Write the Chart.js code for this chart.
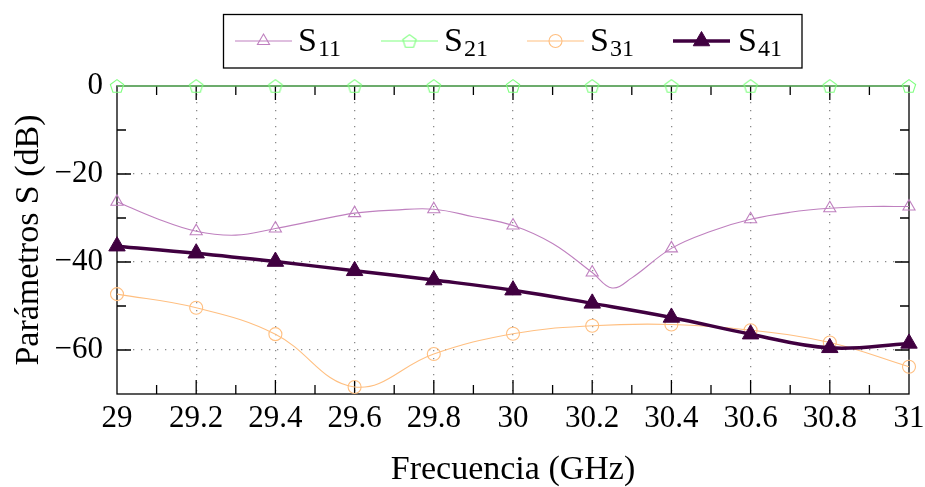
<!DOCTYPE html>
<html><head><meta charset="utf-8">
<script src="https://cdn.jsdelivr.net/npm/chart.js@4"></script>
<style>html,body{margin:0;padding:0;background:#fff;}#wrap{width:925px;height:487px;}</style>
</head><body><div id="wrap"><canvas id="c" width="925" height="487"></canvas></div>
<script>
// ---- data ----
const seriesNames = ['S11', 'S21', 'S31', 'S41'];
const freq = [29, 29.2, 29.4, 29.6, 29.8, 30, 30.2, 30.4, 30.6, 30.8, 31];
const s11Freq = [29, 29.1, 29.2, 29.3, 29.4, 29.5, 29.6, 29.7, 29.8, 29.9, 30, 30.1, 30.2, 30.25, 30.3, 30.4, 30.5, 30.6, 30.7, 30.8, 30.9, 31];
const s11 = [-26.3, -30.1, -33.0, -33.9, -32.4, -30.6, -28.9, -28.2, -28.0, -29.7, -31.7, -35.8, -42.4, -45.9, -43.6, -36.9, -33.0, -30.3, -28.7, -27.8, -27.4, -27.4];
const s21 = [0, 0, 0, 0, 0, 0, 0, 0, 0, 0, 0];
const s31 = [-47.3, -50.4, -56.4, -68.4, -60.9, -56.3, -54.5, -54.2, -55.5, -58.3, -63.8];
const s41 = [-36.4, -38.0, -39.9, -42.0, -44.1, -46.4, -49.4, -52.6, -56.4, -59.5, -58.5];
const xTickValues = [29, 29.2, 29.4, 29.6, 29.8, 30, 30.2, 30.4, 30.6, 30.8, 31];
const xTickLabels = ['29', '29.2', '29.4', '29.6', '29.8', '30', '30.2', '30.4', '30.6', '30.8', '31'];
const yTickValues = [-60, -40, -20, 0];
const yTickLabels = ['\u221260', '\u221240', '\u221220', '0'];
const xTitle = 'Frecuencia (GHz)';
const yTitle = 'Par\u00e1metros S (dB)';

// ---- styles ----
const FONT = "'Liberation Serif', 'Times New Roman', serif";
const colors = ['#bf80bf', '#80ff80', '#ffbf80', '#400040'];
const widths = [1.1, 1.1, 1.1, 3.5];

function pentagon(color) {
  const c = document.createElement('canvas');
  c.width = 18; c.height = 18;
  const g = c.getContext('2d');
  g.strokeStyle = color; g.lineWidth = 1.1;
  g.beginPath();
  for (let k = 0; k < 5; k++) {
    const a = -Math.PI / 2 + k * 2 * Math.PI / 5;
    const px = 9 + 7 * Math.cos(a), py = 9.6 + 7 * Math.sin(a);
    if (k === 0) g.moveTo(px, py); else g.lineTo(px, py);
  }
  g.closePath(); g.stroke();
  return c;
}
const pentImg = pentagon(colors[1]);
const pointStyles = ['triangle', pentImg, 'circle', 'triangle'];
const pointRadii = [7, 7, 6.5, 9.5];
const pointFill = ['rgba(0,0,0,0)', 'rgba(0,0,0,0)', 'rgba(0,0,0,0)', colors[3]];

const isMarked = v => Math.abs(v * 5 - Math.round(v * 5)) < 1e-6;
const toXY = (xs, ys) => xs.map((x, i) => ({ x: x, y: ys[i] }));
const seriesData = [toXY(s11Freq, s11), toXY(freq, s21), toXY(freq, s31), toXY(freq, s41)];

const datasets = seriesNames.map((name, i) => ({
  label: name,
  data: seriesData[i],
  borderColor: colors[i],
  borderWidth: widths[i],
  backgroundColor: pointFill[i],
  pointStyle: pointStyles[i],
  pointRadius: ctx => (ctx.raw && isMarked(ctx.raw.x)) ? pointRadii[i] : 0,
  pointBorderColor: colors[i],
  pointBackgroundColor: pointFill[i],
  pointBorderWidth: i === 3 ? 1 : 1.1,
  tension: 0.4,
  fill: false,
  clip: false,
  order: 3 - i
}));

// ---- plugins ----
const framePlugin = {
  id: 'frame',
  beforeDatasetsDraw(chart) {
    const { ctx, chartArea: a, scales: { x, y } } = chart;
    ctx.save();
    ctx.strokeStyle = '#000';
    ctx.lineWidth = 1.3;
    ctx.strokeRect(a.left, a.top, a.right - a.left, a.bottom - a.top);
    ctx.beginPath();
    const MAJ = 14, MIN = 9;
    xTickValues.forEach((v, i) => {
      const px = x.getPixelForValue(v);
      if (i > 0 && i < xTickValues.length - 1) {
        ctx.moveTo(px, a.bottom); ctx.lineTo(px, a.bottom - MAJ);
        ctx.moveTo(px, a.top); ctx.lineTo(px, a.top + MAJ);
      }
      if (i < xTickValues.length - 1) {
        const m = x.getPixelForValue((v + xTickValues[i + 1]) / 2);
        ctx.moveTo(m, a.bottom); ctx.lineTo(m, a.bottom - MIN);
        ctx.moveTo(m, a.top); ctx.lineTo(m, a.top + MIN);
      }
    });
    yTickValues.forEach((v, i) => {
      const py = y.getPixelForValue(v);
      if (py > a.top + 1 && py < a.bottom - 1) {
        ctx.moveTo(a.left, py); ctx.lineTo(a.left + MAJ, py);
        ctx.moveTo(a.right, py); ctx.lineTo(a.right - MAJ, py);
      }
      if (i < yTickValues.length - 1) {
        const m = y.getPixelForValue((v + yTickValues[i + 1]) / 2);
        ctx.moveTo(a.left, m); ctx.lineTo(a.left + MIN, m);
        ctx.moveTo(a.right, m); ctx.lineTo(a.right - MIN, m);
      }
    });
    ctx.stroke();
    ctx.restore();
  }
};

const legendPlugin = {
  id: 'boxLegend',
  afterDraw(chart) {
    const ctx = chart.ctx;
    ctx.save();
    ctx.strokeStyle = '#000';
    ctx.lineWidth = 1.3;
    ctx.strokeRect(223.5, 14.5, 578.5, 53.5);
    const lineX = [235, 381, 527, 673];
    const textX = [298, 444, 590, 738];
    const ly = 41;
    chart.data.datasets.forEach((ds, i) => {
      ctx.strokeStyle = colors[i];
      ctx.lineWidth = widths[i];
      ctx.beginPath();
      ctx.moveTo(lineX[i], ly); ctx.lineTo(lineX[i] + 57, ly);
      ctx.stroke();
      ctx.fillStyle = pointFill[i];
      ctx.lineWidth = i === 3 ? 1 : 1.1;
      Chart.helpers.drawPoint(ctx, { pointStyle: pointStyles[i], radius: pointRadii[i], rotation: 0, borderWidth: ctx.lineWidth }, lineX[i] + 28.5, ly);
      ctx.fillStyle = '#000';
      ctx.textBaseline = 'alphabetic';
      ctx.textAlign = 'left';
      ctx.font = '34px ' + FONT;
      const main = ds.label.charAt(0), sub = ds.label.slice(1);
      ctx.fillText(main, textX[i], 51);
      const w = ctx.measureText(main).width;
      ctx.font = '24px ' + FONT;
      ctx.fillText(sub, textX[i] + w + 1, 56);
    });
    ctx.restore();
  }
};

const gridColor = (n) => (c) => (c.index === 0 || c.index === n - 1) ? 'rgba(0,0,0,0)' : '#8a8a8a';

new Chart(document.getElementById('c'), {
  type: 'line',
  data: { datasets: datasets },
  plugins: [framePlugin, legendPlugin],
  options: {
    responsive: false,
    devicePixelRatio: 1,
    animation: false,
    events: [],
    layout: { padding: { top: 86, right: 16, left: 0, bottom: 0 } },
    plugins: { legend: { display: false }, tooltip: { enabled: false } },
    scales: {
      x: {
        type: 'linear', min: 29, max: 31,
        afterBuildTicks: s => { s.ticks = xTickValues.map(v => ({ value: v })); },
        afterFit: s => { s.height = 93; s.paddingLeft = 0; s.paddingRight = 0; },
        ticks: { callback: (v, i) => xTickLabels[i], font: { family: FONT, size: 31 }, color: '#000', padding: 6, maxRotation: 0, autoSkip: false },
        grid: { color: gridColor(xTickValues.length), lineWidth: 1.3, drawTicks: false },
        border: { display: false, dash: [1.3, 6.7] },
        title: { display: true, text: xTitle, color: '#000', font: { family: FONT, size: 34, lineHeight: 1 }, padding: { top: 0, bottom: 0 } }
      },
      y: {
        type: 'linear', min: -70, max: 0,
        afterBuildTicks: s => { s.ticks = yTickValues.map(v => ({ value: v })); },
        afterFit: s => { s.width = 117; s.paddingTop = 0; s.paddingBottom = 0; },
        ticks: { callback: (v, i) => yTickLabels[i], font: { family: FONT, size: 31 }, color: '#000', padding: 14, autoSkip: false },
        grid: { color: c => (c.tick && c.tick.value === 0) ? 'rgba(0,0,0,0)' : '#8a8a8a', lineWidth: 1.3, drawTicks: false },
        border: { display: false, dash: [1.3, 6.7] },
        title: { display: true, text: yTitle, color: '#000', font: { family: FONT, size: 34, lineHeight: 1 }, padding: { top: 12, bottom: 0 } }
      }
    }
  }
});
</script>
</body></html>
